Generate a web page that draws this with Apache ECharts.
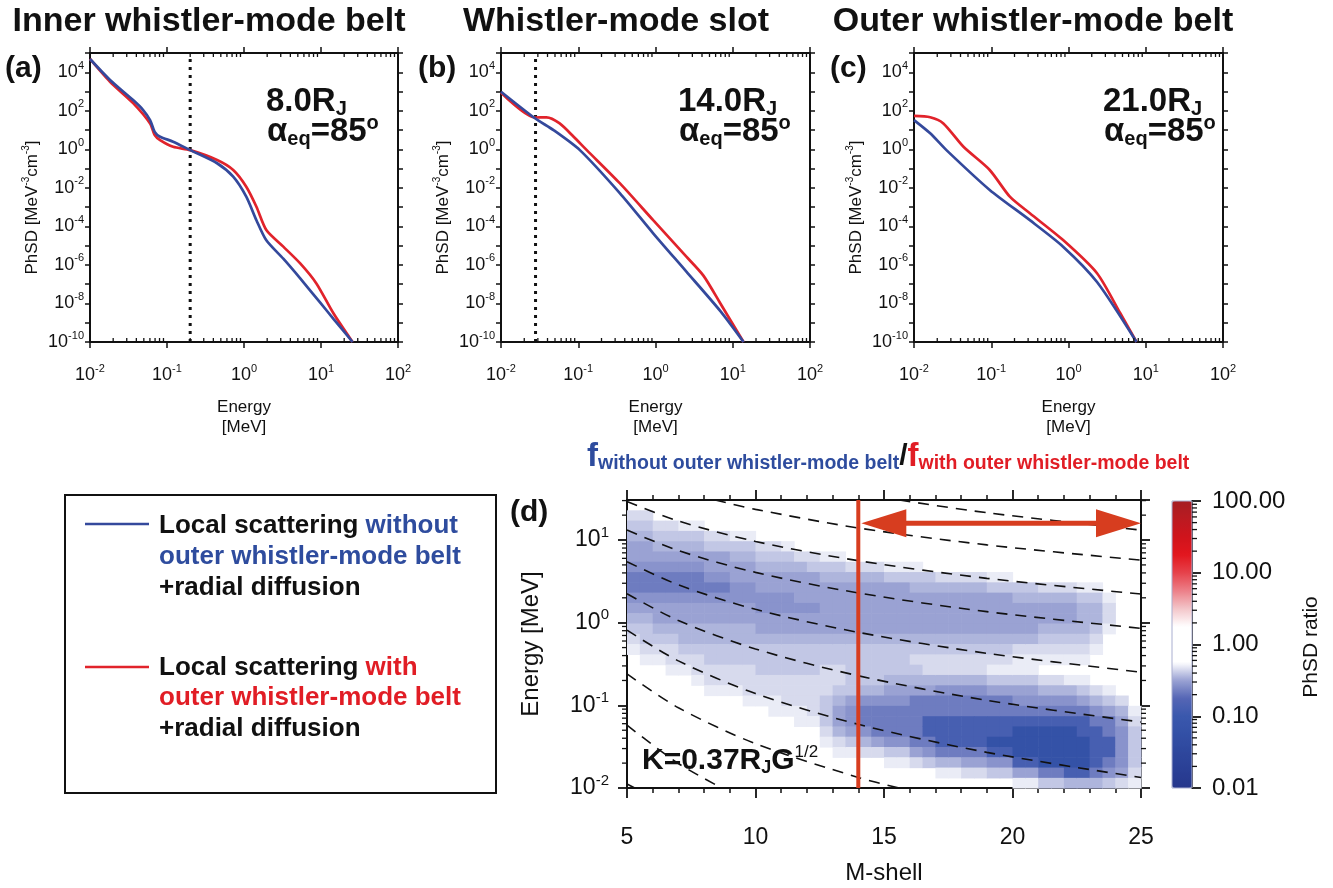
<!DOCTYPE html>
<html>
<head>
<meta charset="utf-8">
<script src="https://cdn.jsdelivr.net/npm/echarts@6.0.0/dist/echarts.min.js"></script>
<style>html,body{margin:0;padding:0;background:#fff;}#chart{width:1333px;height:888px;}</style>
</head>
<body>
<div id="chart"></div>
<script>
// ================= DATA =================
// Panel (a): inner whistler-mode belt, 8.0 RJ  (energy in MeV, PhSD in MeV^-3 cm^-3)
const aEnergyBlue = [0.01, 0.0182, 0.0363, 0.049, 0.0603, 0.0692, 0.0813, 0.120, 0.200, 0.447, 0.724, 1.07, 1.45, 1.95, 3.24, 5.37, 9.77, 14.5, 25.7];
const aPhsdBlue   = [4.9e4, 4.0e3, 3.6e2, 1.1e2, 33, 8.1, 4.5, 2.5, 0.91, 0.19, 0.038, 3.5e-3, 2.1e-4, 1.9e-5, 2.1e-6, 2.0e-7, 1.1e-8, 1.6e-9, 1.0e-10];
const aEnergyRed  = [0.01, 0.0182, 0.0363, 0.0603, 0.0692, 0.0813, 0.120, 0.200, 0.447, 0.724, 1.07, 1.45, 1.95, 3.24, 5.37, 8.71, 14.5, 25.7];
const aPhsdRed    = [4.9e4, 3.2e3, 2.5e2, 22, 5.5, 3.0, 1.35, 0.91, 0.28, 0.085, 0.0115, 1.05e-3, 6.5e-5, 8.9e-6, 1.2e-6, 1.1e-7, 3.1e-9, 1.0e-10];
// Panel (b): whistler-mode slot, 14.0 RJ
const bEnergyBlue = [0.01, 0.0275, 0.0479, 0.105, 0.347, 0.933, 2.51, 6.92, 13.8];
const bPhsdBlue   = [980, 41, 10, 0.91, 5.2e-3, 4.4e-5, 4.5e-7, 4.0e-9, 1.0e-10];
const bEnergyRed  = [0.01, 0.0275, 0.0389, 0.0575, 0.0871, 0.129, 0.347, 0.933, 2.51, 4.17, 6.92, 13.8];
const bPhsdRed    = [890, 45, 46, 22, 4.5, 0.91, 0.017, 2.1e-4, 2.7e-6, 2.8e-7, 1.0e-8, 1.0e-10];
// Panel (c): outer whistler-mode belt, 21.0 RJ
const cEnergyBlue = [0.01, 0.0162, 0.0263, 0.0955, 0.316, 0.851, 2.34, 7.59];
const cPhsdBlue   = [33, 6.8, 0.91, 7.8e-3, 2.1e-4, 8.9e-6, 1.3e-7, 1.0e-10];
const cEnergyRed  = [0.01, 0.0162, 0.024, 0.0437, 0.0955, 0.174, 0.316, 0.851, 2.34, 4.68, 7.59];
const cPhsdRed    = [54, 46, 22, 1.35, 0.085, 3.5e-3, 4.8e-4, 1.95e-5, 3.7e-7, 3.1e-9, 1.0e-10];
// dotted vertical markers (MeV)
const dottedEnergy = [0.2, 0.028, null];
// panel texts
const panelTitles = ['Inner whistler-mode belt', 'Whistler-mode slot', 'Outer whistler-mode belt'];
const panelTags = ['(a)', '(b)', '(c)'];
const panelShell = ['8.0', '14.0', '21.0'];
const pitchAngle = '85';

// Panel (d): PhSD ratio map. Grid of cells: columns in M-shell, rows in log10(Energy) from top.
const heatMStart = 5, heatMStep = 0.5;            // M-shell of first column, column width
const heatLogETop = 1.4843, heatLogEStep = 0.1245; // log10(E/MeV) at top of first row, row height
// ratio for each code (0 = ratio ~1, left blank)
const ratioLevels = [1, 0.50, 0.447, 0.398, 0.355, 0.316, 0.275, 0.219, 0.132, 0.063];
// one string per M-shell column (5.0-5.5, 5.5-6.0, ...), characters = rows from highest energy down
const ratioCodeCols = [
  '0234556776543210000000000000','0234556776543321000000000000',
  '0023456776554321000000000000','0023456776554322100000000000',
  '0013456776554432100000000000','0013456776554432210000000000',
  '0002355676554433221000000000','0002355676554433221000000000',
  '0001345566554433221000000000','0001345566554433222100000000',
  '0000234556655433322100000000','0000234556655433322110000000',
  '0000134556655433322210000000','0000024555655433322211000000',
  '0000023555655433322221000000','0000013455555433222333210000',
  '0000013455555433223455421000','0000002455555433333566531000',
  '0000002455555433334677642000','0000002455555433334677752000',
  '0000001355555433345677763100','0000001355555433345677763100',
  '0000001345555432345777775200','0000000345555432245778876300',
  '0000000245555432246778887410','0000000245555432246778887410',
  '0000000245555432246778887520','0000000245555432246778887520',
  '0000000135555432135778898630','0000000135555432135778898630',
  '0000000034555421135678999851','0000000034555421135678999851',
  '0000000024554321024678999973','0000000024554321024678999973',
  '0000000024554321014678999984','0000000013444321013578899984',
  '0000000013443210002467888874','0000000001221000001357788763',
  '0000000000000000000245666652','0000000000000000000012333321'
];
// dashed constant-mu curves (M-shell, Energy MeV)
const contourMShell = [
  [15.6, 19, 25], [8.43, 10, 14, 19, 25],
  [5, 7, 10, 14, 19, 25], [5, 7, 10, 14, 19, 25], [5, 7, 10, 14, 19, 25],
  [5, 7, 10, 14, 19, 25], [5, 7, 10, 14, 19, 25],
  [5, 7, 10, 14, 15.6], [5, 7, 8.69], [5, 5.3]
];
const contourEnergy = [
  [30.5, 21.4, 13.2], [30.5, 23.5, 14.0, 8.73, 5.71],
  [29.2, 17.0, 9.62, 5.62, 3.44, 2.22], [13.2, 7.45, 4.06, 2.29, 1.36, 0.855], [5.46, 2.87, 1.45, 0.764, 0.426, 0.252],
  [2.24, 1.06, 0.481, 0.228, 0.115, 0.0628], [0.813, 0.345, 0.139, 0.0589, 0.027, 0.0134],
  [0.240, 0.0935, 0.0344, 0.0134, 0.01], [0.0575, 0.0198, 0.01], [0.0112, 0.01]
];
const boundaryMShell = 14;       // red vertical line
const arrowMShell = [14, 25];    // double arrow span
const arrowEnergy = 16;          // MeV
const kLabel = 'K=0.37R';
const colorbarTicks = [0.01, 0.1, 1, 10, 100];

// ================= STYLE =================
const FONT = "'Liberation Sans', Arial, Helvetica, sans-serif";
const AX = '#111';
const BLUE = '#34499c', RED = '#e1232b';
const BLUE_T = '#2e4c9e', RED_T = '#e11d25';
const L10 = Math.log10;

const topGrids = [
  {left: 90, top: 53, width: 308, height: 289},
  {left: 501, top: 53, width: 309, height: 289},
  {left: 914, top: 53, width: 309, height: 289}
];
const heatGrid = {left: 627, top: 500, width: 514, height: 288};
const cbGrid = {left: 1172, top: 501, width: 20, height: 287};

const tk = (size, color, weight, extra) => Object.assign({fontSize: size, fontWeight: weight || 'normal', fontFamily: FONT, fill: color, color: color}, extra || {});

const richTop = {
  b: {fontSize: 18, fontFamily: FONT, color: AX, lineHeight: 24},
  s: {fontSize: 11, fontFamily: FONT, color: AX, lineHeight: 12, verticalAlign: 'top'}
};
const richHeat = {
  b: {fontSize: 23, fontFamily: FONT, color: AX, lineHeight: 30},
  s: {fontSize: 15, fontFamily: FONT, color: AX, lineHeight: 16, verticalAlign: 'top'}
};
const lineS = (w) => ({color: AX, width: w});

const xAxes = [], yAxes = [], grids = [];
topGrids.forEach((g, i) => {
  grids.push(g);
  xAxes.push({gridIndex: i, type: 'value', min: -2, max: 2, interval: 1,
    axisLine: {show: true, onZero: false, lineStyle: lineS(2)},
    axisTick: {show: true, length: 6, lineStyle: lineS(1.5)},
    splitLine: {show: false},
    axisLabel: {margin: 21, formatter: v => `{b|10}{s|${Math.round(v)}}`, rich: richTop},
    name: 'Energy\n[MeV]', nameLocation: 'middle', nameGap: 55,
    nameTextStyle: {fontSize: 17, lineHeight: 20, color: AX, fontFamily: FONT}
  });
  xAxes.push({gridIndex: i, type: 'value', position: 'top', min: -2, max: 2, interval: 1,
    axisLine: {show: true, onZero: false, lineStyle: lineS(2)},
    axisTick: {show: true, length: 6, lineStyle: lineS(1.5)},
    splitLine: {show: false}, axisLabel: {show: false}
  });
  yAxes.push({gridIndex: i, type: 'value', min: -10, max: 5, interval: 1,
    axisLine: {show: true, onZero: false, lineStyle: lineS(2)},
    axisTick: {show: true, length: 5, lineStyle: lineS(1.5)},
    splitLine: {show: false},
    axisLabel: {margin: 6, formatter: v => { const n = Math.round(v); return (n % 2 === 0 && n < 5) ? `{b|10}{s|${n}}` : ''; }, rich: richTop},
    name: '{b|PhSD [MeV}{s|-3}{b|cm}{s|-3}{b|]}', nameLocation: 'middle', nameRotate: 90, nameGap: 47,
    nameTextStyle: {padding: [0, 20, 0, 0], rich: {b: {fontSize: 17, fontFamily: FONT, color: AX, lineHeight: 22}, s: {fontSize: 10, fontFamily: FONT, color: AX, lineHeight: 12, verticalAlign: 'top'}}}
  });
  yAxes.push({gridIndex: i, type: 'value', position: 'right', min: -10, max: 5, interval: 1,
    axisLine: {show: true, onZero: false, lineStyle: lineS(2)},
    axisTick: {show: true, length: 5, lineStyle: lineS(1.5)},
    splitLine: {show: false}, axisLabel: {show: false}
  });
});
// heat map grid (index 3)
grids.push(heatGrid);
xAxes.push({gridIndex: 3, type: 'value', min: 5, max: 25, interval: 5,
  axisLine: {show: true, onZero: false, lineStyle: lineS(2)},
  axisTick: {show: true, length: 10, lineStyle: lineS(1.8)},
  minorTick: {show: true, splitNumber: 5, length: 5, lineStyle: lineS(1.5)},
  splitLine: {show: false},
  axisLabel: {margin: 38, fontSize: 23, color: AX, fontFamily: FONT},
  name: 'M-shell', nameLocation: 'middle', nameGap: 73,
  nameTextStyle: {fontSize: 24, color: AX, fontFamily: FONT}
});
xAxes.push({gridIndex: 3, type: 'value', position: 'top', min: 5, max: 25, interval: 5,
  axisLine: {show: true, onZero: false, lineStyle: lineS(2)},
  axisTick: {show: true, length: 10, lineStyle: lineS(1.8)},
  minorTick: {show: true, splitNumber: 5, length: 5, lineStyle: lineS(1.5)},
  splitLine: {show: false}, axisLabel: {show: false}
});
yAxes.push({gridIndex: 3, type: 'value', min: -2, max: L10(30.5), interval: 1,
  axisLine: {show: true, onZero: false, lineStyle: lineS(2)},
  axisTick: {show: true, length: 9, lineStyle: lineS(1.8)},
  splitLine: {show: false},
  axisLabel: {margin: 18, formatter: v => Math.abs(v - Math.round(v)) < 1e-6 ? `{b|10}{s|${Math.round(v)}}` : '', rich: richHeat, showMaxLabel: false},
  name: 'Energy [MeV]', nameLocation: 'middle', nameRotate: 90, nameGap: 84,
  nameTextStyle: {fontSize: 24, color: AX, fontFamily: FONT}
});
yAxes.push({gridIndex: 3, type: 'value', position: 'right', min: -2, max: L10(30.5), interval: 1,
  axisLine: {show: true, onZero: false, lineStyle: lineS(2)},
  axisTick: {show: true, length: 9, lineStyle: lineS(1.8)},
  splitLine: {show: false}, axisLabel: {show: false}
});
// colour bar axis grid (index 4)
grids.push(cbGrid);
xAxes.push({gridIndex: 4, type: 'value', min: 0, max: 1, show: false});
yAxes.push({gridIndex: 4, type: 'value', position: 'right', min: L10(colorbarTicks[0]), max: L10(colorbarTicks[4]), interval: 1,
  axisLine: {show: true, onZero: false, lineStyle: lineS(1.8)},
  axisTick: {show: true, length: 9, lineStyle: lineS(1.8)},
  splitLine: {show: false},
  axisLabel: {margin: 20, fontSize: 24, color: AX, fontFamily: FONT, formatter: v => Math.pow(10, v).toFixed(2)}
});

// ---------- series ----------
const series = [];
const toLog = (E, F) => E.map((e, i) => [L10(e), L10(F[i])]);
const curveSets = [
  [aEnergyBlue, aPhsdBlue, aEnergyRed, aPhsdRed],
  [bEnergyBlue, bPhsdBlue, bEnergyRed, bPhsdRed],
  [cEnergyBlue, cPhsdBlue, cEnergyRed, cPhsdRed]
];
curveSets.forEach((s, i) => {
  series.push({type: 'line', xAxisIndex: 2 * i, yAxisIndex: 2 * i, data: toLog(s[2], s[3]), smooth: 0.25,
    symbol: 'none', lineStyle: {color: RED, width: 2.7}, z: 5, silent: true});
  series.push({type: 'line', xAxisIndex: 2 * i, yAxisIndex: 2 * i, data: toLog(s[0], s[1]), smooth: 0.25,
    symbol: 'none', lineStyle: {color: BLUE, width: 2.7}, z: 6, silent: true});
  if (dottedEnergy[i]) {
    series.push({type: 'line', xAxisIndex: 2 * i, yAxisIndex: 2 * i, data: [[L10(dottedEnergy[i]), -10], [L10(dottedEnergy[i]), 5]],
      symbol: 'none', lineStyle: {color: AX, width: 3, type: [3, 5]}, z: 4, silent: true});
  }
});

// minor log tick helper
function tickSeries(ax, pts, dx, dy, w) {
  return {type: 'custom', coordinateSystem: 'cartesian2d', xAxisIndex: ax, yAxisIndex: ax, silent: true, clip: false, z: 20,
    data: pts,
    renderItem: (params, api) => {
      const p = api.coord([api.value(0), api.value(1)]);
      return {type: 'line', shape: {x1: p[0], y1: p[1], x2: p[0] + dx, y2: p[1] + dy}, style: {stroke: AX, lineWidth: w || 1.3}};
    }};
}
const minorLogs = [];
for (let d = -2; d < 2; d++) for (let k = 2; k <= 9; k++) minorLogs.push(d + L10(k));
for (let i = 0; i < 3; i++) {
  series.push(tickSeries(2 * i, minorLogs.map(v => [v, -10]), 0, -4));
  series.push(tickSeries(2 * i, minorLogs.map(v => [v, 5]), 0, 4));
}
const heatMinor = minorLogs.filter(v => v < L10(30.5));
series.push(tickSeries(6, heatMinor.map(v => [5, v]), -5, 0));
series.push(tickSeries(6, heatMinor.map(v => [25, v]), 5, 0));
series.push(tickSeries(8, minorLogs.map(v => [1, v]), 5, 0));

// heat map cells
const heatData = [];
ratioCodeCols.forEach((col, c) => {
  for (let r = 0; r < col.length; r++) {
    const code = +col[r];
    if (!code) continue;
    const eTop = heatLogETop - r * heatLogEStep;
    const eBot = Math.max(eTop - heatLogEStep, -2);
    heatData.push([heatMStart + c * heatMStep, heatMStart + (c + 1) * heatMStep, eBot, eTop, L10(ratioLevels[code])]);
  }
});
const heatIndex = series.length;
series.push({type: 'custom', coordinateSystem: 'cartesian2d', xAxisIndex: 6, yAxisIndex: 6, silent: true, z: 1,
  dimensions: ['m0', 'm1', 'e0', 'e1', 'logR'], encode: {x: [0, 1], y: [2, 3]},
  data: heatData,
  renderItem: (params, api) => {
    const p0 = api.coord([api.value(0), api.value(3)]);
    const p1 = api.coord([api.value(1), api.value(2)]);
    return {type: 'rect', shape: {x: p0[0], y: p0[1], width: p1[0] - p0[0] + 0.6, height: p1[1] - p0[1] + 0.6},
      style: {fill: api.visual('color')}};
  }
});
// dashed contours
contourMShell.forEach((ms, i) => {
  series.push({type: 'line', xAxisIndex: 6, yAxisIndex: 6, data: ms.map((m, j) => [m, L10(contourEnergy[i][j])]),
    smooth: 0.3, symbol: 'none', silent: true, z: 3,
    lineStyle: {color: AX, width: 1.6, type: [11, 8]}});
});
// red boundary line
series.push({type: 'line', xAxisIndex: 6, yAxisIndex: 6, data: [[boundaryMShell, -2], [boundaryMShell, L10(30.5)]],
  symbol: 'none', silent: true, z: 6, lineStyle: {color: '#d73d1f', width: 4}});
// double arrow
series.push({type: 'custom', coordinateSystem: 'cartesian2d', xAxisIndex: 6, yAxisIndex: 6, silent: true, clip: false, z: 7,
  data: [[arrowMShell[0], arrowMShell[1], L10(arrowEnergy)]],
  renderItem: (params, api) => {
    const a = api.coord([api.value(0), api.value(2)]);
    const b = api.coord([api.value(1), api.value(2)]);
    const x0 = a[0] + 3, x1 = b[0], y = a[1], hl = 45, hw = 14, col = '#d73d1f';
    return {type: 'group', children: [
      {type: 'line', shape: {x1: x0 + hl - 2, y1: y, x2: x1 - hl + 2, y2: y}, style: {stroke: col, lineWidth: 5}},
      {type: 'polygon', shape: {points: [[x0, y], [x0 + hl, y - hw], [x0 + hl, y + hw]]}, style: {fill: col}},
      {type: 'polygon', shape: {points: [[x1, y], [x1 - hl, y - hw], [x1 - hl, y + hw]]}, style: {fill: col}}
    ]};
  }
});

// ---------- graphics (titles, annotations, legend) ----------
const graphics = [];
const titleCx = [209, 616, 1033];
const tagX = [5, 418, 830];
const annX = [266, 678, 1103];
for (let i = 0; i < 3; i++) {
  graphics.push({type: 'text', x: titleCx[i], y: 22, style: {text: panelTitles[i], font: `bold 34px ${FONT}`, fill: AX, align: 'center', verticalAlign: 'middle'}});
  graphics.push({type: 'text', x: tagX[i], y: 69, style: {text: panelTags[i], font: `bold 30px ${FONT}`, fill: AX, align: 'left', verticalAlign: 'middle'}});
  graphics.push({type: 'text', x: annX[i], y: 83.5, style: {text: `{b|${panelShell[i]}R}{s|J}`, align: 'left', verticalAlign: 'top',
    rich: {b: tk(33, AX, 'bold', {lineHeight: 36}), s: tk(20, AX, 'bold', {lineHeight: 20, verticalAlign: 'bottom'})}}});
  graphics.push({type: 'text', x: annX[i] + 1, y: 113.5, style: {text: `{b|α}{e|eq}{b|=${pitchAngle}}{o|o}`, align: 'left', verticalAlign: 'top',
    rich: {b: tk(33, AX, 'bold', {lineHeight: 36}), e: tk(20, AX, 'bold', {lineHeight: 14, verticalAlign: 'bottom'}), o: tk(20, AX, 'bold', {lineHeight: 20, verticalAlign: 'top'})}}});
}
// panel d
graphics.push({type: 'text', x: 510, y: 513, style: {text: '(d)', font: `bold 30px ${FONT}`, fill: AX, align: 'left', verticalAlign: 'middle'}});
graphics.push({type: 'text', x: 587, y: 440, style: {
  text: '{fb|f}{sb|without outer whistler-mode belt}{sl|/}{fr|f}{sr|with outer whistler-mode belt}', align: 'left', verticalAlign: 'top',
  rich: {fb: tk(33, BLUE_T, 'bold', {lineHeight: 34}), sb: tk(19.5, BLUE_T, 'bold', {lineHeight: 13, verticalAlign: 'bottom'}),
    sl: tk(30, AX, 'bold', {lineHeight: 34}), fr: tk(33, RED_T, 'bold', {lineHeight: 34}), sr: tk(19.5, RED_T, 'bold', {lineHeight: 13, verticalAlign: 'bottom'})}}});
graphics.push({type: 'text', x: 642, y: 743.5, z: 10, style: {text: `{b|${kLabel}}{s|J}{b|G}{p|1/2}`, align: 'left', verticalAlign: 'top',
  rich: {b: tk(30, AX, 'bold', {lineHeight: 34}), s: tk(18, AX, 'bold', {lineHeight: 18, verticalAlign: 'bottom'}), p: tk(17, AX, 'normal', {lineHeight: 17, verticalAlign: 'top'})}}});
graphics.push({type: 'text', x: 1311, y: 647, rotation: Math.PI / 2, style: {text: 'PhSD ratio', font: `21px ${FONT}`, fill: AX, align: 'center', verticalAlign: 'middle'}});
// thin border around the colour bar
graphics.push({type: 'rect', shape: {x: 1172, y: 501, width: 20, height: 287}, style: {fill: 'none', stroke: '#a9aed0', lineWidth: 1}, z: 5});
// legend box
graphics.push({type: 'rect', shape: {x: 65, y: 495, width: 431, height: 298}, style: {fill: 'none', stroke: AX, lineWidth: 2}});
graphics.push({type: 'line', shape: {x1: 85, y1: 524, x2: 149, y2: 524}, style: {stroke: BLUE, lineWidth: 2.6}});
graphics.push({type: 'line', shape: {x1: 85, y1: 667, x2: 149, y2: 667}, style: {stroke: RED, lineWidth: 2.6}});
const lg = {k: tk(26, AX, 'bold'), bl: tk(26, BLUE_T, 'bold'), rd: tk(26, RED_T, 'bold')};
const legendLines = [
  [526, '{k|Local scattering }{bl|without}'], [557, '{bl|outer whistler-mode belt}'], [588, '{k|+radial diffusion}'],
  [668, '{k|Local scattering }{rd|with}'], [698, '{rd|outer whistler-mode belt}'], [729, '{k|+radial diffusion}']
];
legendLines.forEach(([y, t]) => graphics.push({type: 'text', x: 159, y: y, style: {text: t, rich: lg, align: 'left', verticalAlign: 'middle'}}));

const option = {
  animation: false,
  backgroundColor: '#fff',
  grid: grids,
  xAxis: xAxes,
  yAxis: yAxes,
  visualMap: {
    type: 'continuous', seriesIndex: heatIndex, dimension: 4, min: -2, max: 2,
    left: 1172, top: 501, itemWidth: 20, itemHeight: 287, padding: 0,
    calculable: false, hoverLink: false, orient: 'vertical',
    inRange: {color: ['#26378c', '#2a3f95', '#2e479d', '#3350a6', '#3a58ad', '#5566b5', '#9aa2d3', '#ffffff', '#ffffff', '#ffffff',
      '#f3c5c9', '#ec7f88', '#e6424b', '#e2161e', '#d0141c', '#bb1a21', '#a51d23']}
  },
  series: series,
  graphic: graphics
};
const chart = echarts.init(document.getElementById('chart'), null, {renderer: 'canvas'});
chart.setOption(option);
</script>
</body>
</html>
